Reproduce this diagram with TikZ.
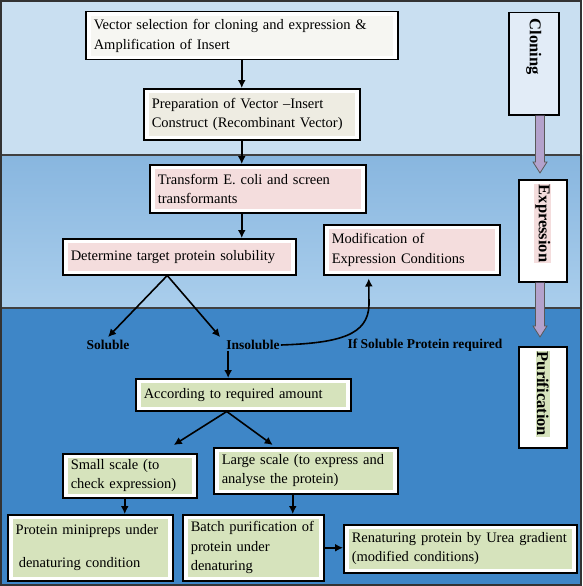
\documentclass[tikz,border=0pt]{standalone}
\usepackage{fontspec}
\setmainfont{Liberation Serif}
\usepackage{graphicx}
\usetikzlibrary{arrows.meta,calc}
\definecolor{bandeA}{RGB}{201,223,241}
\definecolor{bandeBh}{RGB}{136,182,223}
\definecolor{bandeBb}{RGB}{170,206,236}
\definecolor{bandeC}{RGB}{62,134,199}
\definecolor{roseA}{RGB}{244,221,221}
\definecolor{vertA}{RGB}{214,227,188}
\definecolor{beigeA}{RGB}{238,236,226}
\definecolor{grisA}{RGB}{246,246,242}
\definecolor{bleuA}{RGB}{226,236,247}
\definecolor{lilas}{RGB}{180,162,204}
\tikzset{fond/.style={path picture={\fill[#1] ([shift={(5pt,4pt)}]path picture bounding box.south west) rectangle ([shift={(-5pt,-4pt)}]path picture bounding box.north east);}}}
\begin{document}
\begin{tikzpicture}[x=1pt,y=-1pt]
  % Styles
  \tikzstyle{boite}=[draw,fill=white,line width=1.5pt,anchor=north west,align=left,inner xsep=8pt,inner ysep=0pt,font=\fontsize{14.5}{19.5}\selectfont]
  \tikzstyle{cote}=[draw,line width=1.5pt,rotate=-90,anchor=south west,align=left,inner xsep=4pt,inner ysep=0pt,font=\fontsize{16.5}{17}\selectfont\bfseries]
  \tikzstyle{etiquette}=[inner sep=1pt,font=\fontsize{13.5}{14}\selectfont\bfseries]
  \tikzstyle{fleche}=[-{Latex[length=8pt,width=8pt]},line width=1.6pt]
  \tikzstyle{grosse}=[fill=lilas,draw=black!65,line width=0.8pt]
  % Bandes
  \useasboundingbox (0,0) rectangle (582,586);
  \fill[bandeA] (0,0) rectangle (582,155);
  \shade[top color=bandeBh,bottom color=bandeBb] (0,155) rectangle (582,308);
  \fill[bandeC] (0,308) rectangle (582,586);
  \draw[black!75,line width=1.2pt] (0,155) -- (582,155) (0,308) -- (582,308);
  \draw[black!80,line width=1.6pt] (0.8,0.8) rectangle (581.2,585.2);
  % Noeuds
  \node[boite,fond=grisA,text width=296pt,minimum height=48pt] (V) at (85,11) {Vector selection for cloning and expression \&\\Amplification of Insert};
  \node[boite,fond=beigeA,text width=200pt,minimum height=51pt] (P) at (143,88) {Preparation of Vector –Insert\\Construct (Recombinant Vector)};
  \node[boite,fond=roseA,text width=200pt,minimum height=48pt] (T) at (149,164) {Transform E. coli and screen\\transformants};
  \node[boite,fond=roseA,text width=217pt,minimum height=36pt] (D) at (62,238) {Determine target protein solubility};
  \node[boite,fond=roseA,text width=160pt,minimum height=50pt] (M) at (323,224) {Modification of\\Expression Conditions};
  \node[boite,fond=vertA,text width=199pt,minimum height=32pt] (A) at (135,378) {According to required amount};
  \node[boite,fond=vertA,text width=118pt,minimum height=44pt] (S) at (62,453) {Small scale (to\\check expression)};
  \node[boite,fond=vertA,text width=168pt,minimum height=46pt] (L) at (213,447) {Large scale (to express and\\analyse the protein)};
  \node[boite,fond=vertA,text width=149pt,minimum height=66pt] (Pm) at (7,514) {Protein minipreps under\\[13pt]\hspace*{3pt}denaturing condition};
  \node[boite,fond=vertA,text width=125pt,minimum height=66pt] (B) at (182,514) {Batch purification of\\protein under\\denaturing};
  \node[boite,fond=vertA,text width=217pt,minimum height=48pt] (R) at (343,524) {Renaturing protein by Urea gradient\\(modified conditions)};
  \node[cote,fill=bleuA,text width=94pt,minimum height=50pt] (Cl) at (508,12) {\hspace*{2pt}Cloning};
  \node[cote,fill=white,text width=94pt,minimum height=48pt] (Ex) at (518,179) {{\fboxsep=1pt\colorbox{roseA}{Expression}}};
  \node[cote,fill=white,text width=93pt,minimum height=48pt] (Pu) at (518,346) {{\fboxsep=1pt\colorbox{vertA}{Purification}}};
  \node[etiquette] (sol) at (108,345) {Soluble};
  \node[etiquette] (insol) at (253,345) {Insoluble};
  \node[etiquette] (req) at (425,345) {If Soluble Protein required};
  % Fleches
  \draw[fleche] (V.south) -- (V.south |- P.north);
  \draw[fleche] (V.south |- P.south) -- (V.south |- T.north);
  \draw[fleche] (V.south |- T.south) -- (V.south |- D.north);
  \draw[fleche] ([xshift=-12pt]D.south) -- ([yshift=2pt]sol.north);
  \draw[fleche] ([xshift=-12pt]D.south) -- ([xshift=-5pt,yshift=2pt]insol.north west);
  \draw[fleche] (insol.east) .. controls (340,343) and (368,335) .. (369,305) -- ([xshift=-43pt,yshift=-3pt]M.south);
  \draw[fleche] ([xshift=3pt]insol.south west) -- ([xshift=3pt]insol.south west |- A.north);
  \draw[fleche] ([xshift=-16.5pt]A.south) -- ([xshift=44pt,yshift=8pt]S.north);
  \draw[fleche] ([xshift=-16.5pt]A.south) -- ([xshift=-33pt,yshift=2pt]L.north);
  \draw[fleche] ([xshift=-5pt]S.south) -- ([xshift=-5pt]S.south |- Pm.north);
  \draw[fleche] ([xshift=-13pt]L.south) -- ([xshift=-13pt]L.south |- B.north);
  \draw[fleche] (B.east) -- (B.east -| R.west);
  \foreach \a/\b/\g in {Cl/Ex/6,Ex/Pu/9}
    \draw[grosse] let \p1=(\a.east), \p2=(\b.west) in
      (535.5pt,\y1) -- (535.5pt,\y2+\g*1pt+11pt) -- (533pt,\y2+\g*1pt+11pt) -- (540pt,\y2+\g*1pt)
      -- (547pt,\y2+\g*1pt+11pt) -- (544.5pt,\y2+\g*1pt+11pt) -- (544.5pt,\y1);
\end{tikzpicture}
\end{document}
